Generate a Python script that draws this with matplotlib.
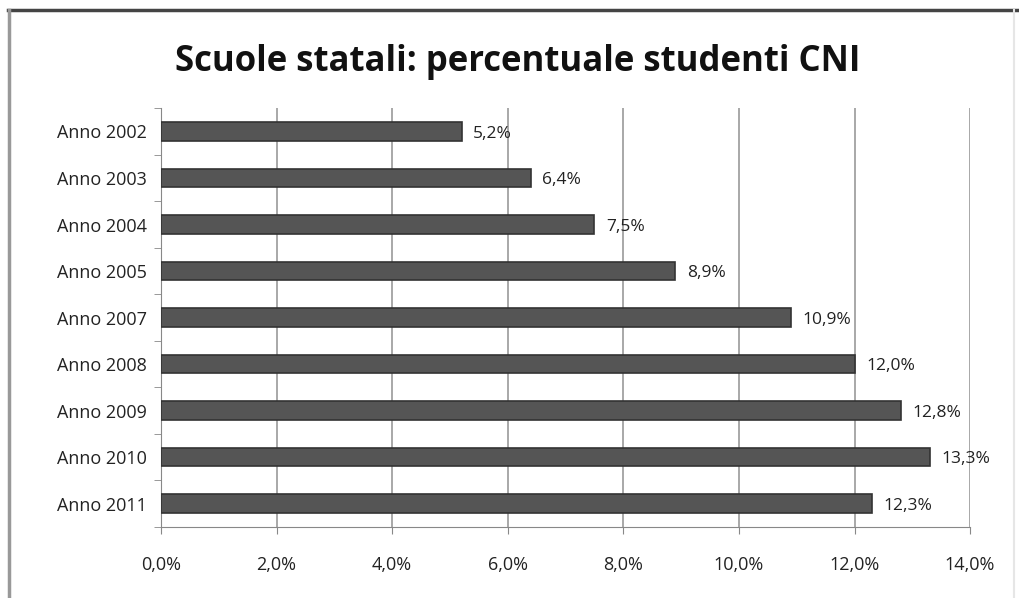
import matplotlib.pyplot as plt
from matplotlib.lines import Line2D

anni = ['Anno 2002', 'Anno 2003', 'Anno 2004', 'Anno 2005', 'Anno 2007',
        'Anno 2008', 'Anno 2009', 'Anno 2010', 'Anno 2011']
percentuali = [5.2, 6.4, 7.5, 8.9, 10.9, 12.0, 12.8, 13.3, 12.3]
xticks = [0, 2, 4, 6, 8, 10, 12, 14]

plt.rcParams['font.family'] = ['Open Sans', 'DejaVu Sans']

fig = plt.figure(figsize=(10.19, 5.98), dpi=100)
ax = fig.add_axes([0.158, 0.119, 0.794, 0.700])

y = list(range(len(anni)))
ax.barh(y, percentuali, height=0.4, color='#555555', edgecolor='#333333', linewidth=1.2, zorder=3)
for yi, v in zip(y, percentuali):
    ax.text(v + 0.2, yi + 0.05, ('%.1f' % v).replace('.', ',') + '%', va='center', ha='left',
            fontsize=12.5, color='#222222')

ax.set_xlim(0, 14)
ax.set_ylim(len(anni) - 0.5, -0.5)
ax.set_xticks(xticks)
ax.set_xticklabels([('%.1f' % t).replace('.', ',') + '%' for t in xticks], fontsize=13, color='#222222')
ax.set_yticks(y)
ax.set_yticklabels(anni, fontsize=13, color='#222222')
ax.tick_params(axis='y', length=0, pad=10)
ax.tick_params(axis='x', length=5, color='#888888', pad=16)
ax.set_yticks([i - 0.5 for i in range(len(anni) + 1)], minor=True)
ax.tick_params(axis='y', which='minor', length=5, color='#888888')

ax.grid(axis='x', color='#999999', linewidth=1.2, zorder=0)
for s in ['top', 'right']:
    ax.spines[s].set_visible(False)
ax.spines['left'].set_color('#888888')
ax.spines['bottom'].set_color('#888888')

fig.text(0.508, 0.897, 'Scuole statali: percentuale studenti CNI', ha='center', va='center',
         fontsize=25, fontweight='bold', color='#111111')

# cornice del grafico: bordo superiore scuro, laterali chiari
fig.add_artist(Line2D([0.008, 1.0], [0.983, 0.983], transform=fig.transFigure,
                      color='#444444', linewidth=2.5))
fig.add_artist(Line2D([0.009, 0.009], [0.0, 0.983], transform=fig.transFigure,
                      color='#999999', linewidth=2.5))
fig.add_artist(Line2D([0.995, 0.995], [0.0, 0.983], transform=fig.transFigure,
                      color='#e6e6e6', linewidth=1.5))

fig.savefig('out.png', dpi=100)
